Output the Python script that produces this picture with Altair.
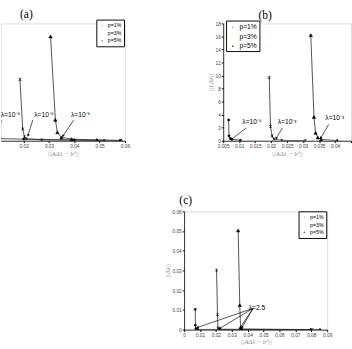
import math
import altair as alt
import pandas as pd

SERIES = ["p=1%", "p=3%", "p=5%"]

# ---------------- panel (a) ----------------
a_p1_x = [0.0065, 0.0068, 0.0072, 0.0078, 0.0200, 0.0400, 0.0580]
a_p1_y = [3.3, 0.8, 0.5, 0.35, 0.25, 0.12, 0.03]
a_p3_x = [0.0185, 0.0196, 0.0203, 0.0210, 0.0271, 0.0390, 0.0518]
a_p3_y = [9.4, 1.8, 0.6, 0.3, 0.12, 0.06, 0.02]
a_p5_x = [0.0306, 0.0325, 0.0333, 0.0349, 0.0389, 0.0489, 0.0585]
a_p5_y = [16.0, 3.2, 1.3, 0.5, 0.25, 0.12, 0.05]
a_lab_x = [0.0148, 0.0280, 0.0425]
a_lab_y = [4.0, 4.0, 4.0]
a_lab_t = ["λ=10⁻⁵", "λ=10⁻⁵", "λ=10⁻⁵"]
a_arr_x = [0.0114, 0.0236, 0.0397]
a_arr_y = [3.1, 3.2, 3.16]
a_arr_x2 = [0.0080, 0.0217, 0.0355]
a_arr_y2 = [1.35, 0.82, 0.73]
a_xticks = [0.02, 0.03, 0.04, 0.05, 0.06]

# ---------------- panel (b) ----------------
b_p1_x = [0.0067, 0.0068, 0.0072, 0.0077, 0.0104]
b_p1_y = [3.2, 0.75, 0.35, 0.2, 0.08]
b_p3_x = [0.0194, 0.0198, 0.0203, 0.0209, 0.0233, 0.0307]
b_p3_y = [9.7, 2.2, 0.73, 0.25, 0.06, 0.02]
b_p5_x = [0.0324, 0.0334, 0.0339, 0.0346, 0.0356, 0.0407]
b_p5_y = [16.2, 3.65, 1.2, 0.5, 0.2, 0.03]
b_lab_x = [0.0140, 0.0250, 0.0399]
b_lab_y = [2.8, 2.8, 3.4]
b_lab_t = ["λ=10⁻⁵", "λ=10⁻³", "λ=10⁻³"]
b_arr_x = [0.0122, 0.0235, 0.0380]
b_arr_y = [1.95, 1.95, 2.5]
b_arr_x2 = [0.0076, 0.0216, 0.0355]
b_arr_y2 = [0.23, 0.38, 0.4]
b_xticks = [0.005, 0.01, 0.015, 0.02, 0.025, 0.03, 0.035, 0.04, 0.045]
b_yticks = [0, 2, 4, 6, 8, 10, 12, 14, 16, 18]

# ---------------- panel (c) ----------------
c_p1_x = [0.0070, 0.0071, 0.0074, 0.0085, 0.0795]
c_p1_y = [0.0103, 0.0022, 0.0005, 0.0001, 0.0]
c_p3_x = [0.0204, 0.0210, 0.0213, 0.0222, 0.0805]
c_p3_y = [0.0301, 0.0076, 0.0008, 0.0002, 0.0]
c_p5_x = [0.0340, 0.0350, 0.0355, 0.0362, 0.0855]
c_p5_y = [0.0503, 0.0124, 0.0010, 0.0003, 0.0]
c_lab_x = [0.0458]
c_lab_y = [0.0111]
c_lab_t = ["λ=2.5"]
c_arr_x = [0.0434, 0.0434, 0.0434, 0.0434]
c_arr_y = [0.0108, 0.0108, 0.0108, 0.0108]
c_arr_x2 = [0.0084, 0.0224, 0.0354, 0.0365]
c_arr_y2 = [0.0011, 0.0006, 0.0011, 0.0012]
c_xticks = [0, 0.01, 0.02, 0.03, 0.04, 0.05, 0.06, 0.07, 0.08, 0.09]
c_yticks = [0, 0.01, 0.02, 0.03, 0.04, 0.05, 0.06]

X_TITLE = "||AΔλ − bᵟ||"

POINT_SHAPES = ["circle", "M-1,-1L1,1M-1,1L1,-1M0,-1.3L0,1.3", "triangle-up"]
POINT_SIZES = [5, 12, 12]
LEGEND_SHAPES = [
    "M-1,0L1,0M-0.15,0A0.15,0.15 0 1,0 0.15,0A0.15,0.15 0 1,0 -0.15,0Z",
    "M-1,0L1,0M-0.25,-0.25L0.25,0.25M-0.25,0.25L0.25,-0.25M0,-0.3L0,0.3",
    "M-1,0L1,0M0,-0.3L0.28,0.2L-0.28,0.2Z",
]


def series_df(xs_list, ys_list):
    rows = []
    for s, xs, ys in zip(SERIES, xs_list, ys_list):
        for i, (x, y) in enumerate(zip(xs, ys)):
            rows.append({"series": s, "x": x, "y": y, "order": i})
    return pd.DataFrame(rows)


def arrow_df(x, y, x2, y2, sx, sy):
    rows = []
    for a, b, c, d in zip(x, y, x2, y2):
        dxp = (c - a) * sx
        dyp = -(d - b) * sy
        ang = math.degrees(math.atan2(dxp, -dyp)) % 360
        rows.append({"x": a, "y": b, "x2": c, "y2": d, "ang": ang})
    return pd.DataFrame(rows)


def xaxis(values, fmt="~g", title=X_TITLE, hide_above=None):
    kw = {}
    if hide_above is not None:
        kw["labelExpr"] = f"datum.value > {hide_above} ? '' : datum.label"
    return alt.Axis(values=values, format=fmt, title=title, grid=False,
                    labelFontSize=5, labelColor="#444", labelFlush=False,
                    labelOverlap=False, labelPadding=1, tickSize=2,
                    tickColor="black", domainColor="black", domainWidth=0.8,
                    titleFont="Liberation Serif", titleFontStyle="italic",
                    titleFontWeight="normal", titleFontSize=7,
                    titleColor="#888", titlePadding=1, **kw)


def yaxis(values, fmt, title):
    return alt.Axis(values=values, format=fmt, title=title, grid=False,
                    labelFontSize=5, labelColor="#444", labelPadding=1,
                    labelOverlap=False, labelFlush=False, tickSize=2,
                    tickColor="black", domainColor="black", domainWidth=0.8,
                    titleFont="Liberation Serif", titleFontStyle="italic",
                    titleFontWeight="normal", titleFontSize=7,
                    titleColor="#888", titlePadding=2)


def panel(df, lab_df, arr_df, xdom, ydom, w, h, xax, yax, title, legend):
    xs = alt.Scale(domain=xdom, nice=False, zero=False)
    ys = alt.Scale(domain=ydom, nice=False, zero=False)
    lines = alt.Chart(df).mark_line(color="#222", strokeWidth=0.8, clip=True).encode(
        x=alt.X("x:Q", scale=xs, axis=xax),
        y=alt.Y("y:Q", scale=ys, axis=yax),
        detail="series:N",
        order="order:Q",
    )
    pts = alt.Chart(df).mark_point(filled=True, color="black", stroke="black",
                                   strokeWidth=0.6, opacity=1, clip=True).encode(
        x=alt.X("x:Q", scale=xs, axis=xax),
        y=alt.Y("y:Q", scale=ys, axis=yax),
        shape=alt.Shape("series:N", scale=alt.Scale(domain=SERIES, range=POINT_SHAPES), legend=None),
        size=alt.Size("series:N", scale=alt.Scale(domain=SERIES, range=POINT_SIZES), legend=None),
    )
    leg = alt.Chart(df).transform_filter("false").mark_point(
        filled=True, fill="black", stroke="black", strokeWidth=0.7).encode(
        shape=alt.Shape("series:N", scale=alt.Scale(domain=SERIES, range=LEGEND_SHAPES),
                        legend=legend),
    )
    rules = alt.Chart(arr_df).mark_rule(color="black", strokeWidth=0.7, clip=True).encode(
        x=alt.X("x:Q", scale=xs, axis=xax),
        y=alt.Y("y:Q", scale=ys, axis=yax),
        x2="x2:Q", y2="y2:Q",
    )
    heads = alt.Chart(arr_df).mark_point(shape="triangle-up", filled=True, color="black",
                                         size=9, opacity=1, clip=True).encode(
        x=alt.X("x2:Q", scale=xs, axis=xax),
        y=alt.Y("y2:Q", scale=ys, axis=yax),
        angle=alt.Angle("ang:Q", scale=None),
    )
    texts = alt.Chart(lab_df).mark_text(fontSize=7, font="Liberation Sans", color="black",
                                        clip=True).encode(
        x=alt.X("x:Q", scale=xs, axis=xax),
        y=alt.Y("y:Q", scale=ys, axis=yax),
        text="t:N",
    )
    return alt.layer(lines, pts, leg, rules, heads, texts).resolve_scale(
        shape="independent", size="independent").properties(width=w, height=h, title=title)


def legend(x, y, fs, ss, rp):
    return alt.Legend(title=None, orient="none", legendX=x, legendY=y,
                      strokeColor="black", fillColor="white", padding=2,
                      labelFontSize=fs, labelFont="Liberation Sans", labelColor="black",
                      labelOffset=2, symbolSize=ss, symbolStrokeWidth=0.7,
                      symbolStrokeColor="black", symbolFillColor="black",
                      rowPadding=rp, cornerRadius=0)


def title(t, dx, offset):
    return alt.TitleParams(t, anchor="start", frame="group", dx=dx, offset=offset,
                           fontSize=12, font="Liberation Serif", fontWeight="normal",
                           color="black")


# panel (a)
A_W, A_H, A_XD, A_YD = 130, 123, [0.011, 0.06], [0, 18]
a_df = series_df([a_p1_x, a_p3_x, a_p5_x], [a_p1_y, a_p3_y, a_p5_y])
a_lab = pd.DataFrame({"x": a_lab_x, "y": a_lab_y, "t": a_lab_t})
a_arr = arrow_df(a_arr_x, a_arr_y, a_arr_x2, a_arr_y2,
                 A_W / (A_XD[1] - A_XD[0]), A_H / (A_YD[1] - A_YD[0]))
chart_a = panel(a_df, a_lab, a_arr, A_XD, A_YD, A_W, A_H,
                xaxis(a_xticks), None, title("(a)", 20, -2), legend(100, -4, 5.5, 45, 0))

# panel (b)
B_W, B_H, B_XD, B_YD = 134, 123, [0.005, 0.045], [0, 18]
b_df = series_df([b_p1_x, b_p3_x, b_p5_x], [b_p1_y, b_p3_y, b_p5_y])
b_lab = pd.DataFrame({"x": b_lab_x, "y": b_lab_y, "t": b_lab_t})
b_arr = arrow_df(b_arr_x, b_arr_y, b_arr_x2, b_arr_y2,
                 B_W / (B_XD[1] - B_XD[0]), B_H / (B_YD[1] - B_YD[0]))
chart_b = panel(b_df, b_lab, b_arr, B_XD, B_YD, B_W, B_H,
                xaxis(b_xticks, hide_above=0.0445), yaxis(b_yticks, "d", "||LΔλ||"),
                title("(b)", 37, -2), legend(3, -3, 7, 70, 2))

# panel (c)
C_W, C_H, C_XD, C_YD = 150, 124, [0, 0.09], [0, 0.06]
c_df = series_df([c_p1_x, c_p3_x, c_p5_x], [c_p1_y, c_p3_y, c_p5_y])
c_lab = pd.DataFrame({"x": c_lab_x, "y": c_lab_y, "t": c_lab_t})
c_arr = arrow_df(c_arr_x, c_arr_y, c_arr_x2, c_arr_y2,
                 C_W / (C_XD[1] - C_XD[0]), C_H / (C_YD[1] - C_YD[0]))
chart_c = panel(c_df, c_lab, c_arr, C_XD, C_YD, C_W, C_H,
                xaxis(c_xticks), yaxis(c_yticks, "~g", "||Δλ||"),
                title("(c)", -5, 3), legend(120, 0, 5.5, 45, 0))

spacer = alt.Chart(pd.DataFrame({"v": [0]})).mark_text(text="", opacity=0).encode(
    x=alt.value(0), y=alt.value(0)).properties(
    width=169, height=1,
    view=alt.ViewBackground(stroke="transparent", fill="transparent", strokeWidth=0))

top = alt.hconcat(chart_a, chart_b, spacing=78)
bottom = alt.hconcat(spacer, chart_c, spacing=0)
chart = alt.vconcat(top, bottom, spacing=38).properties(padding=0).configure_view(
    strokeWidth=0, strokeOpacity=0).configure(font="Liberation Sans", background="white")

chart.save("out.html", embed_options={"renderer": "svg", "actions": False})
